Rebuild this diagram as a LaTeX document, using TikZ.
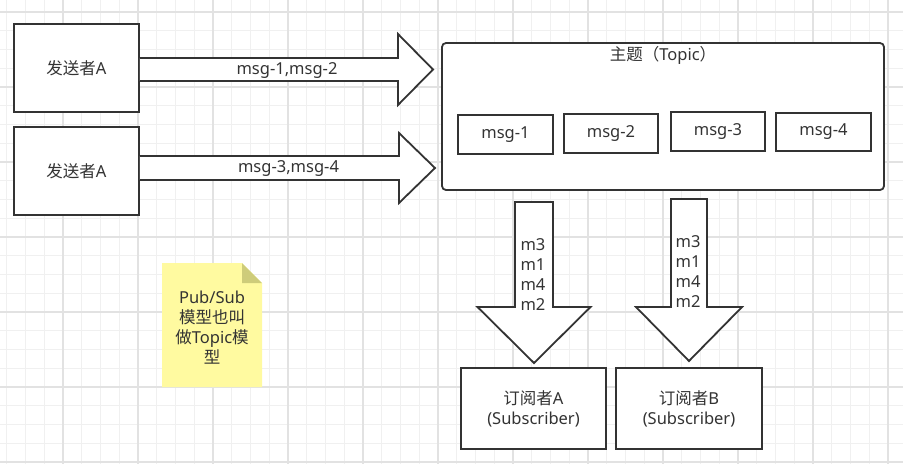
\documentclass[tikz,border=0pt]{standalone}
\usepackage{fontspec}
\setmainfont{Noto Sans}
\newfontfamily\cjk{Noto Sans CJK SC}
\usetikzlibrary{calc}
\definecolor{ln}{RGB}{51,51,51}
\definecolor{txt}{RGB}{51,51,51}
\definecolor{gminor}{RGB}{240,240,240}
\definecolor{gmajor}{RGB}{226,226,226}
\definecolor{notefill}{RGB}{255,250,160}
\definecolor{foldfill}{RGB}{206,204,122}
\tikzset{
  box/.style={draw=ln, line width=1.8pt, fill=white, inner sep=0pt, align=center},
  topicbox/.style={draw=ln, line width=1.8pt, fill=white, rounded corners=4pt},
  blk/.style={draw=ln, line width=1.8pt, fill=white, line join=miter},
  lbl/.style={inner sep=0pt, align=center},
  gridminor/.style={draw=gminor, line width=1pt},
  gridmajor/.style={draw=gmajor, line width=1.2pt},
}
\begin{document}
\begin{tikzpicture}[x=1pt, y=-1pt, font=\fontsize{16.5}{20}\selectfont, text=txt]
\useasboundingbox (0,0) rectangle (903,464);
\fill[white] (0,0) rectangle (903,464);
% grid
\foreach \k in {0,...,47} {
  \pgfmathsetmacro{\gx}{6.8+18.75*\k}
  \draw[gridminor] (\gx,0) -- (\gx,464);
}
\foreach \k in {0,...,24} {
  \pgfmathsetmacro{\gy}{12+18.75*\k}
  \draw[gridminor] (0,\gy) -- (903,\gy);
}
\foreach \k in {0,...,11} {
  \pgfmathsetmacro{\gx}{63.05+75*\k}
  \draw[gridmajor] (\gx,0) -- (\gx,464);
}
\foreach \k in {0,...,6} {
  \pgfmathsetmacro{\gy}{12+75*\k}
  \draw[gridmajor] (0,\gy) -- (903,\gy);
}

% senders
\node[box, minimum width=125pt, minimum height=88pt] (s1) at (76.5,68) {{\cjk 发送者}A};
\node[box, minimum width=125pt, minimum height=88pt] (s2) at (76.5,171) {{\cjk 发送者}A};

% topic
\draw[topicbox] (442,43) rectangle (884,190);
\node[inner sep=0pt] (topic) at (663,116.5) {};
\node[lbl] (ttl) at (663,55) {{\cjk 主题（}Topic{\cjk ）}};
\node[box, minimum width=95pt, minimum height=39pt] (m1) at (505.5,134.5) {msg-1};
\node[box, minimum width=94pt, minimum height=39pt] (m2) at (611,133.5) {msg-2};
\node[box, minimum width=94pt, minimum height=39pt] (m3) at (718,131.5) {msg-3};
\node[box, minimum width=95pt, minimum height=38pt] (m4) at (823.5,132) {msg-4};

% subscribers
\node[box, minimum width=145pt, minimum height=81pt] (subA) at (533.5,408.5) {{\cjk 订阅者}A\\(Subscriber)};
\node[box, minimum width=146pt, minimum height=81pt] (subB) at (689,408.5) {{\cjk 订阅者}B\\(Subscriber)};

% horizontal block arrows
\coordinate (a1s) at (s1.east |- 0,69.5);
\coordinate (a1e) at (433,69.5);
\draw[blk] ($(a1s)+(0,-11.5)$) -- ($(a1e)+(-35,-11.5)$) -- ($(a1e)+(-35,-35.5)$) -- (a1e)
  -- ($(a1e)+(-35,35.5)$) -- ($(a1e)+(-35,11.5)$) -- ($(a1s)+(0,11.5)$);
\node[lbl] (l1) at (287,71) {msg-1,msg-2};

\coordinate (a2s) at (s2.east |- 0,168);
\coordinate (a2e) at (435,168);
\draw[blk] ($(a2s)+(0,-12)$) -- ($(a2e)+(-36,-12)$) -- ($(a2e)+(-36,-35)$) -- (a2e)
  -- ($(a2e)+(-36,35)$) -- ($(a2e)+(-36,12)$) -- ($(a2s)+(0,12)$);
\node[lbl] (l2) at (288.5,169) {msg-3,msg-4};

% vertical block arrows
\coordinate (d1s) at (534,202);
\coordinate (d1e) at (534,363);
\draw[blk] ($(d1s)+(-19,0)$) -- ($(d1s)+(19,0)$) -- ($(d1e)+(19,-56)$) -- ($(d1e)+(56.5,-56)$)
  -- (d1e) -- ($(d1e)+(-56.5,-56)$) -- ($(d1e)+(-19,-56)$) -- cycle;
\node[lbl] (t1) at (533,275) {m3\\m1\\m4\\m2};

\coordinate (d2s) at (689,199);
\coordinate (d2e) at (689,361);
\draw[blk] ($(d2s)+(-18,0)$) -- ($(d2s)+(18,0)$) -- ($(d2e)+(18,-54)$) -- ($(d2e)+(53,-54)$)
  -- (d2e) -- ($(d2e)+(-53,-54)$) -- ($(d2e)+(-18,-54)$) -- cycle;
\node[lbl] (t2) at (688,272) {m3\\m1\\m4\\m2};

% sticky note
\fill[notefill] (162,263) -- (242,263) -- (262,283) -- (262,387) -- (162,387) -- cycle;
\fill[foldfill] (242,263) -- (262,283) -- (242,283) -- cycle;
\node[lbl] (note) at (212,327.5) {Pub/Sub\\{\cjk 模型也叫}\\{\cjk 做}Topic{\cjk 模}\\{\cjk 型}};
\end{tikzpicture}
\end{document}
